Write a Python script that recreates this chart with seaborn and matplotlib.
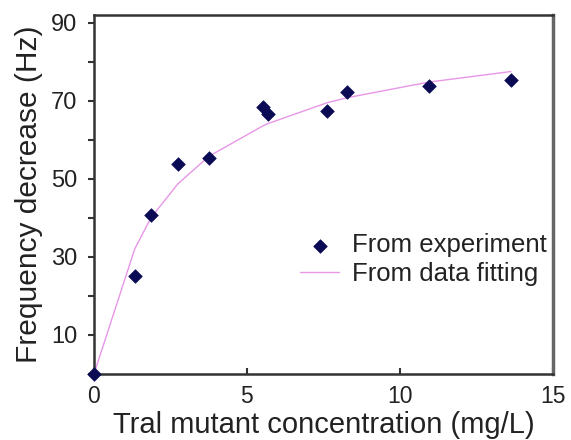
import numpy as np
import pandas as pd
import seaborn as sns
import matplotlib.pyplot as plt
from matplotlib.ticker import MultipleLocator

# Experimental points
conc_exp = [0, 1.33, 1.86, 2.74, 3.76, 5.53, 5.70, 7.62, 8.28, 10.95, 13.63]
freq_exp = [0, 25.2, 40.8, 53.9, 55.4, 68.5, 66.7, 67.3, 72.3, 73.9, 75.4]

# Fitted curve
conc_fit = [0, 1.33, 1.86, 2.74, 3.76, 5.53, 5.70, 7.62, 8.28, 10.95, 13.63]
freq_fit = [0, 32.0, 40.0, 48.7, 55.8, 63.6, 64.2, 69.5, 70.8, 74.8, 77.5]

x_ticks = [0, 5, 10, 15]
y_ticks = [10, 30, 50, 70, 90]

sns.set_theme(style='white')
plt.rcParams['font.family'] = ['Liberation Sans', 'DejaVu Sans']

df_exp = pd.DataFrame({'x': conc_exp, 'y': freq_exp})
df_fit = pd.DataFrame({'x': conc_fit, 'y': freq_fit})

fig = plt.figure(figsize=(5.71, 4.40), dpi=100)
ax = fig.add_axes([0.1646, 0.15, 0.8034, 0.816])

sns.lineplot(data=df_fit, x='x', y='y', ax=ax, color='#e896e8', linewidth=1.0,
             sort=False, estimator=None, label='From data fitting', zorder=2)
sns.scatterplot(data=df_exp, x='x', y='y', ax=ax, marker='D', s=48, color='#0b0b55',
                edgecolor='#0b0b55', linewidth=0.5, label='From experiment', zorder=3,
                clip_on=False)

ax.set_xlim(0, 15)
ax.set_ylim(0, 92)
ax.set_xticks(x_ticks)
ax.set_yticks(y_ticks)
ax.yaxis.set_minor_locator(MultipleLocator(10))
ax.tick_params(axis='x', which='major', direction='in', length=4, width=1.5,
               labelsize=16.5, pad=8, colors='#333333', labelcolor='#222222')
ax.tick_params(axis='y', which='both', direction='out', length=4, width=1.5,
               labelsize=17, pad=8, colors='#333333', labelcolor='#222222')
ax.tick_params(left=True, bottom=True, which='both')

ax.set_xlabel('Tral mutant concentration (mg/L)', fontsize=21, labelpad=2, color='#222222')
ax.set_ylabel('Frequency decrease (Hz)', fontsize=21.5, labelpad=6, color='#222222')

for side in ['left', 'bottom', 'top']:
    ax.spines[side].set_color('#333333')
    ax.spines[side].set_linewidth(1.8)
ax.spines['right'].set_color('#666666')
ax.spines['right'].set_linewidth(2.5)

handles, labels = ax.get_legend_handles_labels()
order = [labels.index('From experiment'), labels.index('From data fitting')]
ax.legend([handles[i] for i in order], [labels[i] for i in order],
          loc='upper left', bbox_to_anchor=(0.45, 0.392), frameon=False,
          fontsize=18.5, handlelength=1.5, handletextpad=0.5, labelspacing=0.2,
          borderpad=0, borderaxespad=0, labelcolor='#222222')

fig.savefig('out.png', dpi=100)
